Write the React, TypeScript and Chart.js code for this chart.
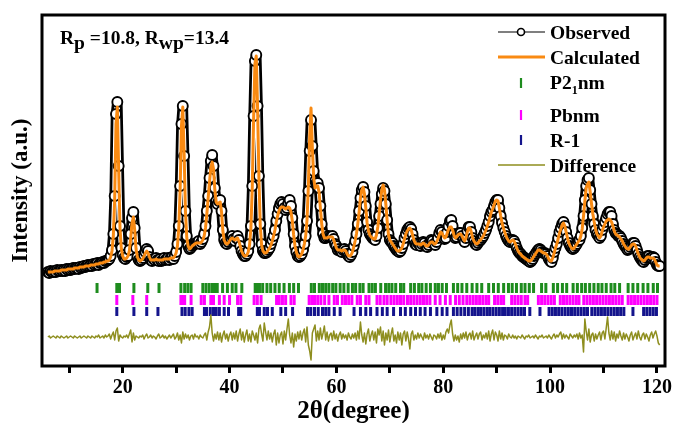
import React, { useEffect, useRef } from "react";
import { Chart, registerables } from "chart.js";

Chart.register(...registerables);

// Step scan: 2θ from 6° in 0.25° steps
const START_2THETA = 6;
const STEP_2THETA = 0.25;

// Observed intensity (a.u.), one row per degree (6° … 120°)
const observed = [
  24, 23, 25, 24,
  24, 25, 24, 26,
  25, 25, 26, 25,
  26, 25, 27, 26,
  27, 26, 27, 28,
  27, 28, 28, 27,
  29, 28, 29, 30,
  29, 30, 31, 30,
  31, 30, 32, 31,
  32, 33, 31, 33,
  33, 34, 33, 35,
  35, 36, 37, 40,
  46, 62, 100, 182,
  194, 130, 70, 48,
  41, 38, 37, 39,
  40, 46, 62, 78,
  84, 68, 48, 39,
  36, 35, 36, 38,
  41, 44, 47, 45,
  39, 36, 35, 37,
  36, 38, 36, 35,
  37, 35, 36, 38,
  36, 37, 38, 36,
  38, 39, 37, 40,
  44, 52, 70, 110,
  172, 190, 140, 85,
  60, 50, 47, 48,
  50, 51, 52, 53,
  53, 55, 52, 54,
  57, 62, 70, 85,
  100, 118, 135, 141,
  130, 108, 95, 92,
  95, 96, 85, 66,
  56, 53, 52, 54,
  56, 58, 60, 57,
  55, 58, 60, 56,
  50, 45, 42, 40,
  40, 42, 45, 52,
  70, 110, 180, 235,
  241, 190, 120, 72,
  52, 45, 43, 43,
  44, 46, 48, 52,
  56, 60, 66, 75,
  82, 88, 92, 94,
  92, 88, 86, 88,
  93, 96, 90, 78,
  62, 50, 44, 40,
  39, 40, 42, 46,
  52, 60, 75, 105,
  145, 176, 150, 125,
  115, 113, 113, 108,
  90, 72, 62, 58,
  58, 59, 60, 59,
  59, 60, 57, 52,
  50, 46, 47, 45,
  44, 46, 47, 45,
  42, 40, 39, 41,
  44, 50, 55, 62,
  72, 85, 98, 106,
  109, 104, 90, 74,
  66, 62, 60, 58,
  57, 56, 60, 68,
  80, 92, 102, 108,
  105, 92, 76, 62,
  56, 54, 53, 50,
  48, 46, 45, 44,
  45, 48, 52, 58,
  62, 66, 68, 69,
  67, 62, 56, 52,
  51, 53, 52, 50,
  52, 54, 53, 50,
  49, 51, 54, 56,
  55, 52, 51, 54,
  58, 63, 66, 64,
  60, 57, 58, 64,
  70, 75, 76, 70,
  62, 58, 59, 62,
  63, 63, 60, 56,
  54, 58, 65, 69,
  69, 64, 58, 55,
  52, 51, 53, 55,
  56, 58, 60, 63,
  66, 70, 74, 80,
  84, 86, 90, 94,
  96, 96, 88, 80,
  73, 68, 64, 60,
  57, 55, 54, 55,
  56, 55, 52, 48,
  45, 43, 42, 40,
  39, 38, 37, 36,
  35, 34, 35, 37,
  40, 42, 44, 46,
  47, 46, 44, 43,
  43, 42, 40, 37,
  35, 34, 38, 44,
  48, 52, 58, 64,
  68, 72, 74, 70,
  64, 58, 53, 50,
  48, 47, 48, 50,
  52, 55, 56, 60,
  68, 80, 96, 110,
  116, 118, 106, 92,
  80, 72, 66, 62,
  60, 58, 60, 66,
  70, 74, 78, 82,
  84, 84, 80, 72,
  66, 63, 62, 60,
  60, 58, 55, 52,
  50, 48, 46, 47,
  49, 51, 53, 53,
  50, 46, 42, 39,
  37, 35, 34, 36,
  38, 40, 40, 38,
  38, 39, 38, 34,
  31, 30, 30,
];

// Rietveld fit, same 2θ steps
const calculated = [
  24, 24, 24, 24,
  24, 25, 25, 25,
  25, 25, 26, 26,
  26, 26, 26, 27,
  27, 27, 27, 27,
  28, 28, 28, 28,
  29, 29, 29, 29,
  30, 30, 30, 30,
  31, 31, 31, 31,
  32, 32, 32, 33,
  33, 33, 34, 34,
  35, 35, 36, 39,
  45, 60, 96, 172,
  189, 126, 68, 47,
  40, 37, 37, 38,
  40, 45, 58, 73,
  79, 66, 47, 39,
  36, 35, 36, 37,
  40, 43, 45, 43,
  39, 36, 36, 36,
  36, 37, 36, 36,
  36, 36, 36, 37,
  37, 37, 37, 37,
  38, 38, 38, 40,
  43, 50, 68, 106,
  170, 189, 142, 84,
  58, 50, 47, 48,
  50, 51, 52, 53,
  53, 53, 53, 54,
  56, 60, 68, 82,
  98, 114, 128, 134,
  127, 106, 94, 92,
  93, 94, 84, 65,
  56, 53, 52, 53,
  55, 57, 58, 57,
  56, 57, 58, 55,
  50, 45, 42, 40,
  40, 41, 44, 51,
  68, 108, 176, 232,
  240, 188, 118, 70,
  51, 45, 43, 43,
  44, 46, 48, 51,
  55, 60, 66, 74,
  80, 85, 88, 89,
  89, 88, 87, 88,
  89, 88, 84, 75,
  61, 50, 44, 40,
  39, 40, 42, 46,
  52, 60, 76, 110,
  160, 188, 148, 118,
  108, 110, 110, 104,
  88, 72, 62, 58,
  58, 58, 59, 59,
  59, 59, 56, 52,
  48, 46, 46, 46,
  45, 46, 46, 45,
  42, 40, 40, 41,
  44, 49, 55, 62,
  72, 84, 98, 106,
  109, 102, 88, 73,
  65, 61, 59, 58,
  57, 57, 61, 69,
  82, 96, 106, 111,
  106, 92, 75, 61,
  56, 54, 52, 50,
  48, 46, 45, 45,
  46, 48, 52, 57,
  62, 65, 67, 68,
  66, 61, 56, 53,
  52, 52, 52, 51,
  52, 53, 52, 50,
  50, 51, 53, 54,
  54, 52, 52, 54,
  57, 61, 64, 63,
  60, 58, 59, 63,
  67, 69, 69, 66,
  61, 58, 59, 61,
  62, 62, 60, 57,
  55, 58, 64, 68,
  68, 64, 58, 55,
  53, 52, 53, 55,
  56, 58, 60, 63,
  66, 70, 74, 79,
  84, 87, 91, 95,
  96, 95, 88, 80,
  73, 68, 64, 60,
  57, 55, 54, 55,
  56, 55, 52, 48,
  45, 43, 42, 40,
  39, 38, 37, 36,
  35, 35, 36, 38,
  40, 42, 44, 46,
  46, 45, 44, 43,
  43, 42, 40, 37,
  35, 35, 38, 43,
  48, 52, 57, 63,
  67, 71, 73, 70,
  64, 58, 53, 50,
  48, 47, 48, 50,
  52, 54, 56, 60,
  67, 80, 95, 108,
  112, 114, 104, 92,
  82, 74, 67, 62,
  60, 58, 60, 65,
  69, 72, 75, 76,
  77, 76, 74, 70,
  65, 62, 61, 60,
  59, 57, 55, 52,
  50, 48, 47, 47,
  49, 51, 52, 52,
  50, 46, 42, 39,
  37, 36, 35, 36,
  38, 39, 39, 38,
  38, 38, 37, 34,
  31, 30, 30,
];

// Observed − calculated, same 2θ steps
const difference = [
  0, 1, -1, 0,
  1, 0, -1, 1,
  0, -1, 1, 0,
  -1, 0, 1, -1,
  0, 1, 0, -1,
  1, 0, -1, 0,
  1, -1, 0, 1,
  0, -1, 1, 0,
  -1, 1, 0, -1,
  1, 0, 2, -1,
  0, 1, -1, 2,
  0, 1, 3, -2,
  2, 5, -3, 6,
  9, -4, 2, 0,
  -1, 1, 0, 2,
  -1, 3, 7, -5,
  4, -3, 1, 0,
  -1, 1, 0, 2,
  -2, 1, 3, -1,
  0, 2, -1, 1,
  0, -2, 1, 3,
  -1, 0, 2, -1,
  1, -2, 0, 2,
  -1, 1, 3, -2,
  0, 4, -3, 2,
  -6, 5, -2, 3,
  -1, 2, -3, 1,
  2, -2, 3, 0,
  1, -2, 2, 0,
  -1, 2, 4, -3,
  5, 10, 22, 4,
  -4, 3, -2, 5,
  -3, 4, -5, 2,
  6, -2, 3, -4,
  2, 5, -3, 4,
  -2, 6, -4, 3,
  8, -3, 5, -5,
  2, 7, -4, 3,
  -5, 6, 2, -3,
  4, -6, 8, 12,
  3, -4, 14, 5,
  -3, 6, -2, 4,
  -5, 3, 7, -8,
  4, -6, 2, 5,
  -7, 6, -3, 8,
  18, 2, -6, 4,
  -10, 3, -4, 5,
  -2, 6, -3, 4,
  8, -5, 10, -8,
  -14, -23, 4, 8,
  12, -4, 6, -3,
  9, -2, 4, 11,
  -3, 5, -4, 2,
  4, -3, 6, -2,
  3, -4, 2, 5,
  -2, 3, -1, 2,
  -3, 4, 0, -2,
  3, -1, 4, -3,
  6, -2, 15, 2,
  -5, 4, -7, 3,
  8, -4, 2, 6,
  -3, 5, -6, 8,
  2, 10, -4, 6,
  -8, 4, -3, 7,
  -5, 3, 9, -4,
  2, -6, 5, -3,
  4, -8, 3, 6,
  -4, 5, -2, -12,
  3, 6, -3, 2,
  -2, 4, -1, 3,
  0, -3, 4, -1,
  2, -2, 3, 0,
  -3, 2, 1, -2,
  3, -1, 4, -3,
  2, -2, 5, 8,
  4, 12, 17, 3,
  -4, 2, -3, 1,
  -5, 3, -2, 4,
  -1, 5, -3, 2,
  4, -2, 6, -3,
  1, 4, -2, 3,
  5, -3, 2, -1,
  4, -2, 6, -4,
  3, 7, -3, 5,
  2, -4, 6, -2,
  4, -3, 2, 1,
  -2, 3, 0, -1,
  2, -1, 1, -2,
  1, 0, -1, 2,
  0, -2, 1, 0,
  2, -1, 0, 1,
  -1, 2, 0, -2,
  1, 0, 2, -1,
  0, 1, -1, 2,
  0, -2, 1, 3,
  -1, 2, 0, 3,
  5, -2, 3, -1,
  2, 0, -2, 3,
  1, -1, 2, 0,
  3, -2, 4, -1,
  2, -15, 18, 6,
  -3, 8, -5, 2,
  4, -4, 3, -2,
  2, 5, -3, 4,
  6, -2, 9, 20,
  4, -3, 6, -2,
  5, -4, 3, -1,
  6, 1, -3, 4,
  -2, 3, 0, -4,
  2, 5, -3, 1,
  4, -2, 6, 0,
  -3, 2, 4, -2,
  3, 0, -4, 2,
  5, -1, 3, 6,
  1, -6, -8,
];
const DIFF_OFFSET = -41;

// Bragg reflection positions (2θ) for each phase
const p21nmReflections = [
  15.2, 18.9, 19.4, 22.1, 24.7, 26.8, 30.9, 31.6, 32.2, 32.8, 35.0, 35.6, 36.2,
  36.8, 37.1, 37.4, 37.7, 38.7, 39.6, 40.5, 41.2, 42.3, 44.8, 45.2, 45.6, 46.2,
  47.0, 47.7, 48.5, 49.3, 50.2, 51.2, 52.0, 52.9, 55.3, 55.9, 56.8, 57.4, 58.0,
  58.6, 59.3, 59.9, 60.7, 61.4, 62.2, 63.0, 63.6, 64.4, 65.0, 66.1, 66.7, 67.3,
  68.3, 69.2, 69.8, 70.4, 71.1, 72.0, 72.6, 73.9, 74.6, 75.4, 76.0, 76.8, 77.6,
  78.5, 79.1, 79.8, 80.6, 81.9, 82.7, 83.5, 84.4, 85.4, 86.3, 87.2, 88.5, 89.4,
  90.3, 91.3, 92.2, 92.9, 93.7, 94.6, 95.3, 96.1, 96.9, 98.4, 99.2, 100.6,
  101.4, 102.3, 103.1, 104.3, 105.1, 105.9, 106.6, 107.4, 108.2, 109.0, 109.7,
  110.5, 111.4, 112.1, 113.0, 114.6, 115.5, 116.4, 117.4, 118.3, 119.3, 120.1,
];
const pbnmReflections = [
  18.9, 21.9, 24.5, 30.9, 31.3, 31.6, 32.8, 34.7, 35.3, 36.5, 37.0, 38.1, 39.0,
  40.0, 41.5, 42.1, 44.6, 45.2, 45.9, 48.8, 49.3, 49.9, 50.5, 51.5, 52.1, 54.9,
  55.4, 55.9, 56.5, 57.1, 57.8, 58.6, 59.6, 60.2, 61.1, 61.7, 62.3, 62.9, 63.9,
  64.5, 65.5, 66.1, 67.6, 68.2, 68.9, 69.5, 70.2, 70.8, 71.4, 72.0, 72.6, 73.3,
  73.9, 74.5, 75.1, 75.7, 76.3, 76.9, 77.5, 78.5, 79.4, 80.4, 81.3, 82.3, 83.0,
  83.7, 84.4, 85.0, 85.6, 86.2, 86.8, 87.4, 88.0, 88.5, 89.6, 90.2, 90.8, 91.3,
  92.8, 93.4, 94.0, 94.6, 95.3, 95.8, 97.8, 98.4, 99.0, 99.6, 100.2, 100.8,
  101.9, 102.5, 103.1, 103.7, 104.3, 104.9, 105.4, 106.3, 106.9, 107.5, 108.1,
  108.7, 109.3, 109.9, 110.5, 111.1, 111.7, 112.3, 112.9, 113.5, 114.6, 115.2,
  115.8, 116.4, 117.0, 117.6, 118.2, 118.8, 119.4, 120.0,
];
const r1Reflections = [
  18.9, 22.1, 24.5, 26.6, 31.1, 31.7, 32.4, 33.0, 35.3, 35.7, 36.4, 37.0, 37.5,
  38.1, 39.0, 39.8, 41.7, 42.1, 45.2, 45.6, 46.5, 47.1, 48.0, 49.6, 50.5, 51.8,
  54.6, 55.2, 55.9, 56.6, 57.4, 58.0, 58.6, 59.6, 60.7, 63.3, 64.5, 65.5, 66.4,
  67.6, 68.6, 69.5, 70.7, 72.0, 72.9, 73.9, 74.8, 75.7, 76.6, 77.6, 78.8, 79.8,
  80.7, 81.9, 82.6, 83.3, 84.0, 84.7, 85.4, 85.9, 86.5, 87.0, 87.6, 88.2, 88.7,
  89.3, 89.9, 90.5, 91.1, 91.6, 92.2, 92.8, 93.4, 94.0, 94.6, 95.2, 96.2, 98.1,
  99.8, 100.4, 101.0, 101.6, 102.2, 102.8, 103.4, 104.0, 104.6, 105.2, 105.8,
  106.4, 107.0, 107.8, 108.4, 109.0, 109.6, 110.2, 110.8, 111.4, 112.0, 112.6,
  113.2, 113.8, 115.5, 117.5, 118.1, 118.7, 119.3, 119.9,
];
// Vertical rows where each phase's reflection markers sit
const P21NM_ROW = 8;
const PBNM_ROW = -4;
const R1_ROW = -15.5;

const X_TICKS = [10, 20, 30, 40, 50, 60, 70, 80, 90, 100, 110, 120];

const FONT = '"Liberation Serif", "Times New Roman", serif';
const ORANGE = "#F98A12";
const OLIVE = "#8E8E1E";
const GREEN = "#1E8C1E";
const MAGENTA = "#FF00FF";
const NAVY = "#14148C";

const stepX = (i: number) => START_2THETA + i * STEP_2THETA;

const framePlugin = {
  id: "frame",
  afterDatasetsDraw(chart: any) {
    const { ctx, chartArea: a } = chart;
    ctx.save();
    ctx.strokeStyle = "#000";
    ctx.lineWidth = 3;
    ctx.strokeRect(a.left, a.top, a.right - a.left, a.bottom - a.top);
    ctx.restore();
  },
};

// Draws text runs with optional lowered (subscript) parts
function drawRuns(
  ctx: CanvasRenderingContext2D,
  x: number,
  baseline: number,
  runs: { t: string; size: number; dy: number }[]
) {
  let cx = x;
  for (const r of runs) {
    ctx.font = `bold ${r.size}px ${FONT}`;
    ctx.fillText(r.t, cx, baseline + r.dy);
    cx += ctx.measureText(r.t).width;
  }
}

const annotationPlugin = {
  id: "annotations",
  afterDraw(chart: any) {
    const ctx: CanvasRenderingContext2D = chart.ctx;
    ctx.save();
    ctx.fillStyle = "#000";
    ctx.textBaseline = "alphabetic";
    ctx.textAlign = "left";

    // Agreement factors
    drawRuns(ctx, 60, 44, [
      { t: "R", size: 19.5, dy: 0 },
      { t: "p", size: 19.5, dy: 5 },
      { t: " =10.8, R", size: 19.5, dy: 0 },
      { t: "wp", size: 19.5, dy: 5 },
      { t: "=13.4", size: 19.5, dy: 0 },
    ]);

    // Legend
    const x0 = 498;
    const x1 = 545;
    const tx = 550;
    const mid = 521;

    // Observed
    ctx.strokeStyle = "#000";
    ctx.lineWidth = 1.2;
    ctx.beginPath();
    ctx.moveTo(x0, 32);
    ctx.lineTo(x1, 32);
    ctx.stroke();
    ctx.beginPath();
    ctx.arc(mid, 32, 3.5, 0, Math.PI * 2);
    ctx.fillStyle = "#fff";
    ctx.fill();
    ctx.lineWidth = 1.6;
    ctx.stroke();
    ctx.fillStyle = "#000";
    drawRuns(ctx, tx, 39, [{ t: "Observed", size: 19.5, dy: 0 }]);

    // Calculated
    ctx.strokeStyle = ORANGE;
    ctx.lineWidth = 3;
    ctx.beginPath();
    ctx.moveTo(x0, 57);
    ctx.lineTo(x1, 57);
    ctx.stroke();
    drawRuns(ctx, tx, 64, [{ t: "Calculated", size: 19.5, dy: 0 }]);

    // Phase markers
    const marks: [string, number, number][] = [
      [GREEN, 78, 88],
      [MAGENTA, 110, 120],
      [NAVY, 135, 145],
    ];
    ctx.lineWidth = 2.2;
    for (const [c, ya, yb] of marks) {
      ctx.strokeStyle = c;
      ctx.beginPath();
      ctx.moveTo(mid, ya);
      ctx.lineTo(mid, yb);
      ctx.stroke();
    }
    drawRuns(ctx, tx, 89, [
      { t: "P2", size: 19.5, dy: 0 },
      { t: "1", size: 12, dy: 5 },
      { t: "nm", size: 19.5, dy: 0 },
    ]);
    drawRuns(ctx, tx, 122, [{ t: "Pbnm", size: 19.5, dy: 0 }]);
    drawRuns(ctx, tx, 147, [{ t: "R-1", size: 19.5, dy: 0 }]);

    // Difference
    ctx.strokeStyle = OLIVE;
    ctx.lineWidth = 1.5;
    ctx.beginPath();
    ctx.moveTo(x0, 165);
    ctx.lineTo(x1, 165);
    ctx.stroke();
    drawRuns(ctx, tx, 172, [{ t: "Difference", size: 19.5, dy: 0 }]);

    ctx.restore();
  },
};

export default function App() {
  const canvasRef = useRef<HTMLCanvasElement | null>(null);

  useEffect(() => {
    const canvas = canvasRef.current;
    if (!canvas) return;

    const obsPts = observed.map((y, i) => ({ x: stepX(i), y }));
    const calcPts = calculated.map((y, i) => ({ x: stepX(i), y }));
    const diffPts = difference.map((d, i) => ({ x: stepX(i), y: d + DIFF_OFFSET }));
    const marker = (xs: number[], row: number) => xs.map((x) => ({ x, y: row }));

    const tickSet = (data: { x: number; y: number }[], color: string, r: number) => ({
      data,
      showLine: false,
      pointStyle: "line" as const,
      pointRotation: 90,
      pointRadius: r,
      pointBorderWidth: 3,
      borderColor: color,
      pointBorderColor: color,
      backgroundColor: color,
      order: 5,
    });

    // The observed trace is stroked as a hollow band (black edge, white core)
    // under its open circles, so the densely sampled profile reads as a chain.
    const band = (color: string, width: number, order: number, label: string) => ({
      label,
      data: obsPts,
      showLine: true,
      borderColor: color,
      borderWidth: width,
      borderJoinStyle: "round" as const,
      borderCapStyle: "round" as const,
      pointRadius: 0,
      order,
    });

    const chart = new Chart(canvas, {
      type: "scatter",
      data: {
        datasets: [
          {
            label: "Calculated",
            data: calcPts,
            showLine: true,
            borderColor: ORANGE,
            borderWidth: 3,
            borderJoinStyle: "round",
            pointRadius: 0,
            order: 0,
          },
          {
            label: "Observed",
            data: obsPts,
            showLine: false,
            pointRadius: 5,
            pointBorderWidth: 1.9,
            pointBackgroundColor: "#fff",
            pointBorderColor: "#000",
            borderColor: "#000",
            order: 1,
          },
          band("#fff", 5, 2, "Observed core"),
          band("#000", 10.5, 3, "Observed edge"),
          {
            label: "Difference",
            data: diffPts,
            showLine: true,
            borderColor: OLIVE,
            borderWidth: 1.5,
            borderJoinStyle: "round",
            pointRadius: 0,
            order: 4,
          },
          { label: "P2₁nm", ...tickSet(marker(p21nmReflections, P21NM_ROW), GREEN, 5) },
          { label: "Pbnm", ...tickSet(marker(pbnmReflections, PBNM_ROW), MAGENTA, 5) },
          { label: "R-1", ...tickSet(marker(r1Reflections, R1_ROW), NAVY, 4.5) },
        ] as any,
      },
      options: {
        animation: false,
        responsive: false,
        devicePixelRatio: 1,
        events: [],
        layout: { padding: { left: 0, top: 15, right: 6, bottom: 0 } },
        plugins: {
          legend: { display: false },
          tooltip: { enabled: false },
        },
        scales: {
          x: {
            type: "linear",
            min: 4.9,
            max: 121.5,
            afterBuildTicks: (s: any) => {
              s.ticks = X_TICKS.map((v) => ({ value: v }));
            },
            afterFit: (s: any) => {
              s.height = 57;
              s.paddingLeft = 0;
              s.paddingRight = 0;
            },
            ticks: {
              autoSkip: false,
              maxRotation: 0,
              padding: 3,
              color: "#000",
              font: { family: FONT, size: 20, weight: "bold" },
              callback: (v: any) => (Number(v) % 20 === 0 ? String(v) : ""),
            },
            grid: {
              drawOnChartArea: false,
              drawTicks: true,
              tickLength: 7,
              lineWidth: 3,
              color: "#000",
            },
            border: { display: false },
            title: {
              display: true,
              text: "2θ(degree)",
              color: "#000",
              font: { family: FONT, size: 25, weight: "bold", lineHeight: 1 },
              padding: { top: 0, bottom: -1 },
            },
          },
          y: {
            type: "linear",
            min: -70,
            max: 281,
            afterFit: (s: any) => {
              s.width = 42;
              s.paddingTop = 0;
              s.paddingBottom = 0;
            },
            ticks: { display: false },
            grid: { display: false },
            border: { display: false },
            title: {
              display: true,
              text: "Intensity (a.u.)",
              color: "#000",
              font: { family: FONT, size: 23, weight: "bold", lineHeight: 1.2 },
              padding: { top: 7, bottom: 0 },
            },
          },
        },
      } as any,
      plugins: [framePlugin, annotationPlugin],
    });

    return () => chart.destroy();
  }, []);

  return (
    <div style={{ position: "fixed", left: 0, top: 0, width: 673, height: 423, background: "#fff" }}>
      <canvas ref={canvasRef} width={673} height={423} />
    </div>
  );
}
